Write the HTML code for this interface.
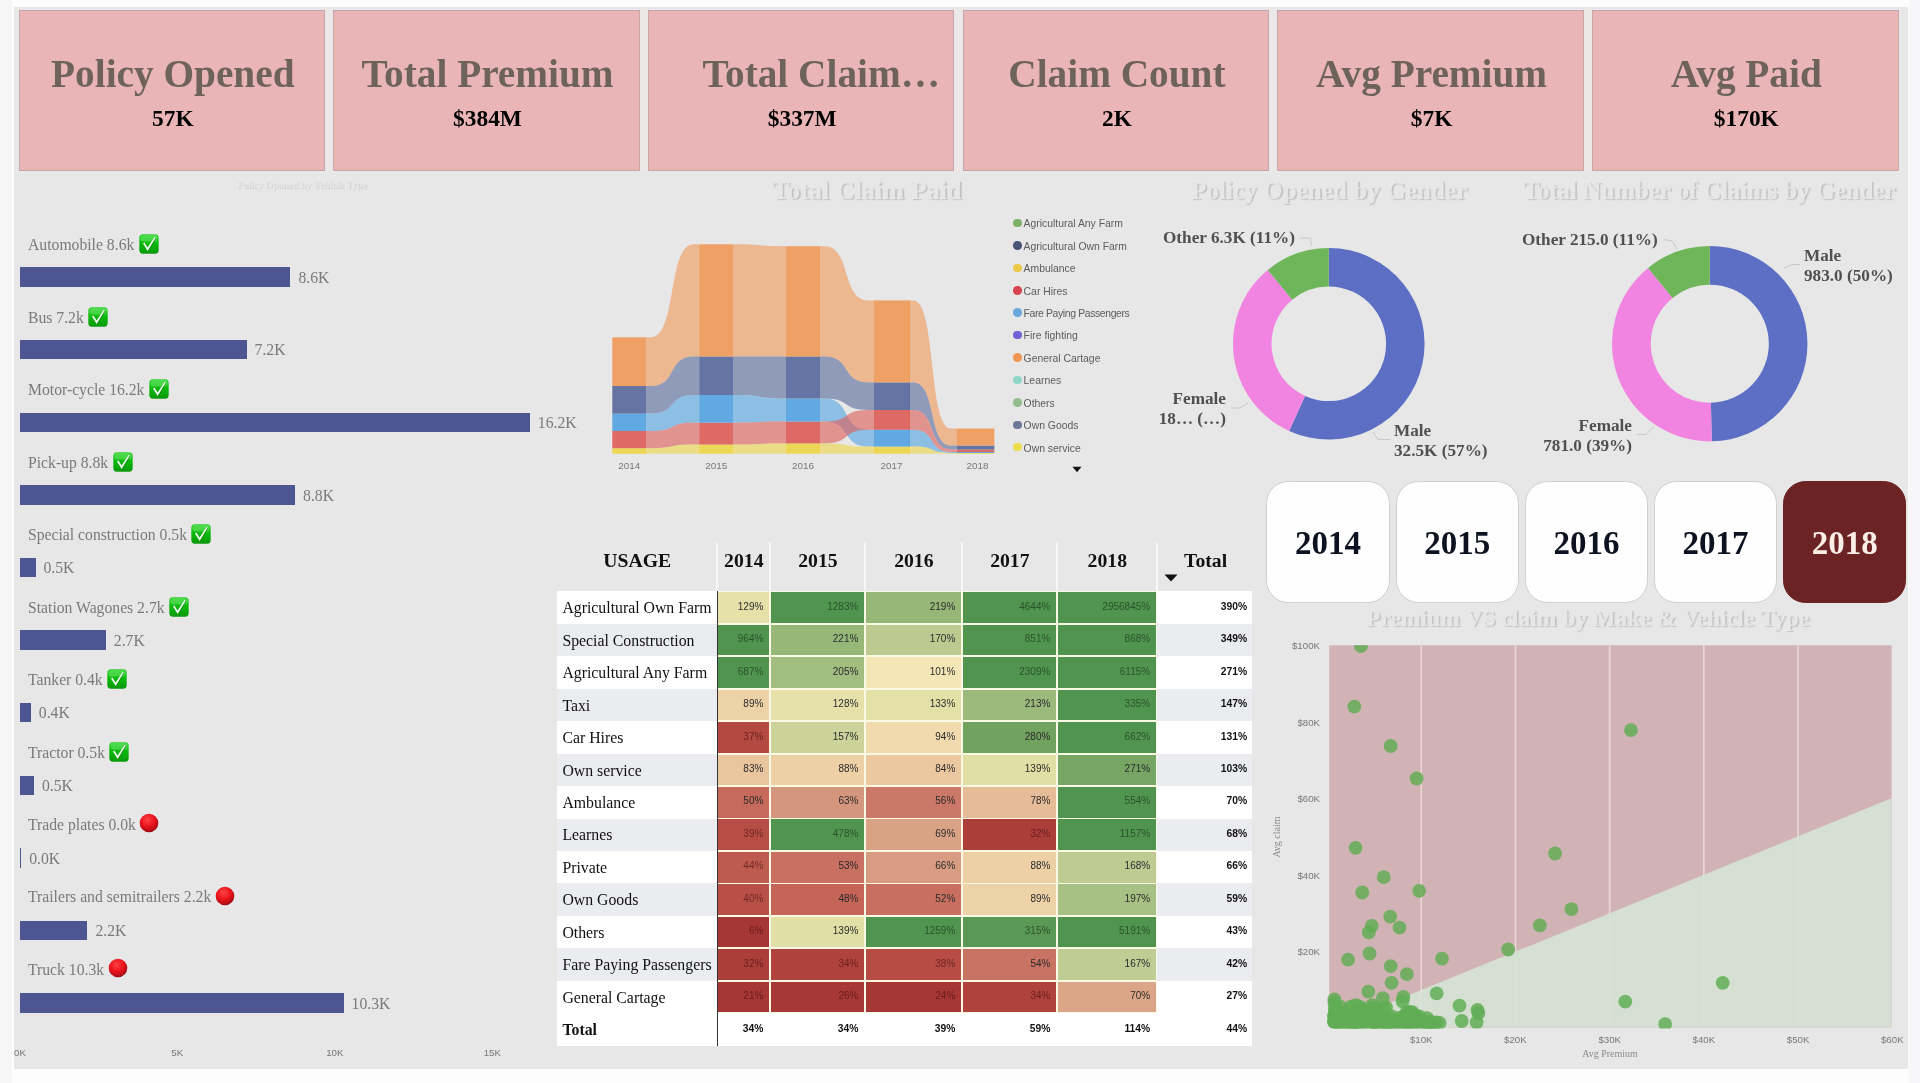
<!DOCTYPE html>
<html lang="en"><head><meta charset="utf-8"><title>Insurance Dashboard</title>
<style>

html,body{margin:0;padding:0;}
body{width:1920px;height:1083px;overflow:hidden;background:#fdfdfd;position:relative;font-family:"Liberation Serif", "DejaVu Serif", serif;}
.abs{position:absolute;}
#wrap{position:absolute;left:0;top:0;width:1920px;height:1083px;will-change:transform;}
#leftstrip{left:0;top:0;width:12px;height:1083px;background:#f6f6f6;}
#rightstrip{left:1909px;top:0;width:11px;height:1083px;background:#f7f7f9;}
#canvas{left:14px;top:7px;width:1893.5px;height:1061.6px;background:#e7e7e8;}
.kpi{top:10px;width:304.6px;height:158.6px;background:#eab5b7;border:1px solid #c3a7a8;box-sizing:content-box;}
.kpi .t{position:absolute;left:2px;right:0;top:41px;text-align:center;font:bold 39.3px/44px "Liberation Serif", "DejaVu Serif", serif;color:#6e635b;white-space:nowrap;}
.kpi .v{position:absolute;left:2px;right:0;top:92.6px;text-align:center;font:bold 23.4px/28px "Liberation Serif", "DejaVu Serif", serif;color:#000;white-space:nowrap;}
.ttl{font:bold 25.4px/30px "Liberation Serif", "DejaVu Serif", serif;color:#e7e7e8;text-shadow:1.6px 1.4px 1.2px rgba(0,0,0,.17);white-space:nowrap;}
.blab{font:15.7px/20px "Liberation Serif", "DejaVu Serif", serif;color:#7a7a7a;white-space:nowrap;}
.bar{background:#4d5690;height:19.5px;left:19.8px;}
.ax{font:9.7px/12px "Liberation Sans", "DejaVu Sans", sans-serif;color:#777;white-space:nowrap;}
.axt{font:10px/12px "Liberation Serif", "DejaVu Serif", serif;color:#8a8a8a;white-space:nowrap;text-align:center;}
.leg{font:10.4px/12px "Liberation Sans", "DejaVu Sans", sans-serif;color:#5c5c5c;white-space:nowrap;}
.dl{font:bold 17.2px/19.5px "Liberation Serif", "DejaVu Serif", serif;color:#505050;white-space:nowrap;}
.yr{top:481.4px;width:123.4px;height:121.3px;border-radius:22.5px;background:#fefefe;border:1px solid #d0d0d0;box-sizing:border-box;text-align:center;font:bold 33px/122px "Liberation Serif", "DejaVu Serif", serif;color:#0c1220;}
.yr.sel{background:#6c2323;border-color:#6c2323;color:#fbeee6;}
.th{font:bold 19.7px/24px "Liberation Serif", "DejaVu Serif", serif;color:#111;white-space:nowrap;text-align:center;}
.rl{font:15.8px/20px "Liberation Serif", "DejaVu Serif", serif;color:#111;white-space:nowrap;}
.cv{font:10px/12px "Liberation Sans", "DejaVu Sans", sans-serif;white-space:nowrap;text-align:right;}
.tv{font:bold 10.3px/12px "Liberation Sans", "DejaVu Sans", sans-serif;color:#111;white-space:nowrap;text-align:right;}

</style></head><body>
<div id="wrap">
<div id="leftstrip" class="abs"></div><div id="rightstrip" class="abs"></div>
<div id="canvas" class="abs"></div>
<div class="abs" style="left:17px;top:8.5px;width:1884px;height:163.5px;background:#ece8e7"></div>
<svg width="0" height="0" style="position:absolute"><defs><linearGradient id="gk" x1="0" y1="0" x2="0" y2="1"><stop offset="0" stop-color="#2fcf2f"/><stop offset=".5" stop-color="#0cb80c"/><stop offset="1" stop-color="#0a980a"/></linearGradient><radialGradient id="rg" cx=".42" cy=".32" r=".7"><stop offset="0" stop-color="#ff4242"/><stop offset=".55" stop-color="#e8131c"/><stop offset=".86" stop-color="#b90d14"/><stop offset="1" stop-color="#8a0a10"/></radialGradient></defs></svg>
<div class="abs kpi" style="left:18.5px"><div class="t">Policy Opened</div><div class="v">57K</div></div>
<div class="abs kpi" style="left:333.2px"><div class="t">Total Premium</div><div class="v">$384M</div></div>
<div class="abs kpi" style="left:647.9px"><div class="t" style="left:40px">Total Claim…</div><div class="v">$337M</div></div>
<div class="abs kpi" style="left:962.6px"><div class="t">Claim Count</div><div class="v">2K</div></div>
<div class="abs kpi" style="left:1277.3px"><div class="t">Avg Premium</div><div class="v">$7K</div></div>
<div class="abs kpi" style="left:1592.0px"><div class="t">Avg Paid</div><div class="v">$170K</div></div>
<div class="abs ttl" style="left:237px;top:170.3px;font-size:9.9px;text-shadow:.9px .7px .8px rgba(0,0,0,.11);">Policy Opened by Vehicle Type</div>
<div class="abs ttl" style="left:772px;top:176px;font-size:26.2px;">Total Claim Paid</div>
<div class="abs ttl" style="left:1191px;top:176px;font-size:25.2px;">Policy Opened by Gender</div>
<div class="abs ttl" style="left:1523px;top:176px;font-size:24.7px;">Total Number of Claims by Gender</div>
<div class="abs ttl" style="left:1366px;top:603px;font-size:23.6px;">Premium VS claim by Make &amp; Vehicle Type</div>
<div class="abs blab" style="left:28px;top:235.3px">Automobile 8.6k<span style="display:inline-block;width:5px"></span><span style="display:inline-block;position:relative;width:20px;height:14px;vertical-align:baseline"><svg class="abs" style="left:-0.7px;top:-2.0px" width="20" height="20" viewBox="0 0 20 20"><rect x="0.3" y="0.3" width="19.4" height="19.4" rx="3.6" fill="url(#gk)"/><rect x="1.4" y="1.0" width="17.2" height="6.6" rx="3" fill="#8af58a" opacity=".38"/><path d="M4.9 9.9 L9.5 17.2 L17.4 4.2 L16.3 3.5 L9.3 13.9 L6.3 9.2 Z" fill="#045c04" opacity=".5"/><path d="M4.0 9.4 L8.7 16.9 L16.8 3.5 L15.6 2.9 L8.6 13.4 L5.5 8.5 Z" fill="#f0fff0"/></svg></span></div>
<div class="abs bar" style="top:267.3px;width:270.6px"></div>
<div class="abs blab" style="left:298.4px;top:267.8px">8.6K</div>
<div class="abs blab" style="left:28px;top:307.8px">Bus 7.2k<span style="display:inline-block;width:5px"></span><span style="display:inline-block;position:relative;width:20px;height:14px;vertical-align:baseline"><svg class="abs" style="left:-0.7px;top:-2.0px" width="20" height="20" viewBox="0 0 20 20"><rect x="0.3" y="0.3" width="19.4" height="19.4" rx="3.6" fill="url(#gk)"/><rect x="1.4" y="1.0" width="17.2" height="6.6" rx="3" fill="#8af58a" opacity=".38"/><path d="M4.9 9.9 L9.5 17.2 L17.4 4.2 L16.3 3.5 L9.3 13.9 L6.3 9.2 Z" fill="#045c04" opacity=".5"/><path d="M4.0 9.4 L8.7 16.9 L16.8 3.5 L15.6 2.9 L8.6 13.4 L5.5 8.5 Z" fill="#f0fff0"/></svg></span></div>
<div class="abs bar" style="top:339.9px;width:226.8px"></div>
<div class="abs blab" style="left:254.6px;top:340.4px">7.2K</div>
<div class="abs blab" style="left:28px;top:380.2px">Motor-cycle 16.2k<span style="display:inline-block;width:5px"></span><span style="display:inline-block;position:relative;width:20px;height:14px;vertical-align:baseline"><svg class="abs" style="left:-0.7px;top:-2.0px" width="20" height="20" viewBox="0 0 20 20"><rect x="0.3" y="0.3" width="19.4" height="19.4" rx="3.6" fill="url(#gk)"/><rect x="1.4" y="1.0" width="17.2" height="6.6" rx="3" fill="#8af58a" opacity=".38"/><path d="M4.9 9.9 L9.5 17.2 L17.4 4.2 L16.3 3.5 L9.3 13.9 L6.3 9.2 Z" fill="#045c04" opacity=".5"/><path d="M4.0 9.4 L8.7 16.9 L16.8 3.5 L15.6 2.9 L8.6 13.4 L5.5 8.5 Z" fill="#f0fff0"/></svg></span></div>
<div class="abs bar" style="top:412.5px;width:510.0px"></div>
<div class="abs blab" style="left:537.8px;top:413.0px">16.2K</div>
<div class="abs blab" style="left:28px;top:452.7px">Pick-up 8.8k<span style="display:inline-block;width:5px"></span><span style="display:inline-block;position:relative;width:20px;height:14px;vertical-align:baseline"><svg class="abs" style="left:-0.7px;top:-2.0px" width="20" height="20" viewBox="0 0 20 20"><rect x="0.3" y="0.3" width="19.4" height="19.4" rx="3.6" fill="url(#gk)"/><rect x="1.4" y="1.0" width="17.2" height="6.6" rx="3" fill="#8af58a" opacity=".38"/><path d="M4.9 9.9 L9.5 17.2 L17.4 4.2 L16.3 3.5 L9.3 13.9 L6.3 9.2 Z" fill="#045c04" opacity=".5"/><path d="M4.0 9.4 L8.7 16.9 L16.8 3.5 L15.6 2.9 L8.6 13.4 L5.5 8.5 Z" fill="#f0fff0"/></svg></span></div>
<div class="abs bar" style="top:485.1px;width:275.3px"></div>
<div class="abs blab" style="left:303.1px;top:485.6px">8.8K</div>
<div class="abs blab" style="left:28px;top:525.1px">Special construction 0.5k<span style="display:inline-block;width:5px"></span><span style="display:inline-block;position:relative;width:20px;height:14px;vertical-align:baseline"><svg class="abs" style="left:-0.7px;top:-2.0px" width="20" height="20" viewBox="0 0 20 20"><rect x="0.3" y="0.3" width="19.4" height="19.4" rx="3.6" fill="url(#gk)"/><rect x="1.4" y="1.0" width="17.2" height="6.6" rx="3" fill="#8af58a" opacity=".38"/><path d="M4.9 9.9 L9.5 17.2 L17.4 4.2 L16.3 3.5 L9.3 13.9 L6.3 9.2 Z" fill="#045c04" opacity=".5"/><path d="M4.0 9.4 L8.7 16.9 L16.8 3.5 L15.6 2.9 L8.6 13.4 L5.5 8.5 Z" fill="#f0fff0"/></svg></span></div>
<div class="abs bar" style="top:557.7px;width:15.8px"></div>
<div class="abs blab" style="left:43.5px;top:558.2px">0.5K</div>
<div class="abs blab" style="left:28px;top:597.5px">Station Wagones 2.7k<span style="display:inline-block;width:5px"></span><span style="display:inline-block;position:relative;width:20px;height:14px;vertical-align:baseline"><svg class="abs" style="left:-0.7px;top:-2.0px" width="20" height="20" viewBox="0 0 20 20"><rect x="0.3" y="0.3" width="19.4" height="19.4" rx="3.6" fill="url(#gk)"/><rect x="1.4" y="1.0" width="17.2" height="6.6" rx="3" fill="#8af58a" opacity=".38"/><path d="M4.9 9.9 L9.5 17.2 L17.4 4.2 L16.3 3.5 L9.3 13.9 L6.3 9.2 Z" fill="#045c04" opacity=".5"/><path d="M4.0 9.4 L8.7 16.9 L16.8 3.5 L15.6 2.9 L8.6 13.4 L5.5 8.5 Z" fill="#f0fff0"/></svg></span></div>
<div class="abs bar" style="top:630.3px;width:86.0px"></div>
<div class="abs blab" style="left:113.8px;top:630.8px">2.7K</div>
<div class="abs blab" style="left:28px;top:670.0px">Tanker 0.4k<span style="display:inline-block;width:5px"></span><span style="display:inline-block;position:relative;width:20px;height:14px;vertical-align:baseline"><svg class="abs" style="left:-0.7px;top:-2.0px" width="20" height="20" viewBox="0 0 20 20"><rect x="0.3" y="0.3" width="19.4" height="19.4" rx="3.6" fill="url(#gk)"/><rect x="1.4" y="1.0" width="17.2" height="6.6" rx="3" fill="#8af58a" opacity=".38"/><path d="M4.9 9.9 L9.5 17.2 L17.4 4.2 L16.3 3.5 L9.3 13.9 L6.3 9.2 Z" fill="#045c04" opacity=".5"/><path d="M4.0 9.4 L8.7 16.9 L16.8 3.5 L15.6 2.9 L8.6 13.4 L5.5 8.5 Z" fill="#f0fff0"/></svg></span></div>
<div class="abs bar" style="top:702.9px;width:11.0px"></div>
<div class="abs blab" style="left:38.8px;top:703.4px">0.4K</div>
<div class="abs blab" style="left:28px;top:742.5px">Tractor 0.5k<span style="display:inline-block;width:5px"></span><span style="display:inline-block;position:relative;width:20px;height:14px;vertical-align:baseline"><svg class="abs" style="left:-0.7px;top:-2.0px" width="20" height="20" viewBox="0 0 20 20"><rect x="0.3" y="0.3" width="19.4" height="19.4" rx="3.6" fill="url(#gk)"/><rect x="1.4" y="1.0" width="17.2" height="6.6" rx="3" fill="#8af58a" opacity=".38"/><path d="M4.9 9.9 L9.5 17.2 L17.4 4.2 L16.3 3.5 L9.3 13.9 L6.3 9.2 Z" fill="#045c04" opacity=".5"/><path d="M4.0 9.4 L8.7 16.9 L16.8 3.5 L15.6 2.9 L8.6 13.4 L5.5 8.5 Z" fill="#f0fff0"/></svg></span></div>
<div class="abs bar" style="top:775.5px;width:14.2px"></div>
<div class="abs blab" style="left:42.0px;top:776.0px">0.5K</div>
<div class="abs blab" style="left:28px;top:814.9px">Trade plates 0.0k<span style="display:inline-block;width:5px"></span><span style="display:inline-block;position:relative;width:20px;height:14px;vertical-align:baseline"><svg class="abs" style="left:-1.5px;top:-2.6px" width="20" height="20" viewBox="0 0 20 20"><circle cx="10" cy="10" r="9.3" fill="url(#rg)"/></svg></span></div>
<div class="abs bar" style="top:848.1px;width:1.4px"></div>
<div class="abs blab" style="left:29.2px;top:848.6px">0.0K</div>
<div class="abs blab" style="left:28px;top:887.4px">Trailers and semitrailers 2.2k<span style="display:inline-block;width:5px"></span><span style="display:inline-block;position:relative;width:20px;height:14px;vertical-align:baseline"><svg class="abs" style="left:-1.5px;top:-2.6px" width="20" height="20" viewBox="0 0 20 20"><circle cx="10" cy="10" r="9.3" fill="url(#rg)"/></svg></span></div>
<div class="abs bar" style="top:920.7px;width:67.7px"></div>
<div class="abs blab" style="left:95.5px;top:921.2px">2.2K</div>
<div class="abs blab" style="left:28px;top:959.8px">Truck 10.3k<span style="display:inline-block;width:5px"></span><span style="display:inline-block;position:relative;width:20px;height:14px;vertical-align:baseline"><svg class="abs" style="left:-1.5px;top:-2.6px" width="20" height="20" viewBox="0 0 20 20"><circle cx="10" cy="10" r="9.3" fill="url(#rg)"/></svg></span></div>
<div class="abs bar" style="top:993.3px;width:323.8px"></div>
<div class="abs blab" style="left:351.6px;top:993.8px">10.3K</div>
<div class="abs ax" style="left:0px;width:40px;text-align:center;top:1047.2px">0K</div>
<div class="abs ax" style="left:157.3px;width:40px;text-align:center;top:1047.2px">5K</div>
<div class="abs ax" style="left:314.8px;width:40px;text-align:center;top:1047.2px">10K</div>
<div class="abs ax" style="left:472.3px;width:40px;text-align:center;top:1047.2px">15K</div>
<svg class="abs" style="left:600px;top:225px" width="410" height="240" viewBox="600 225 410 240"><path d="M646.3 337.3 L650.8 337.3 C677.4 337.3 667.1 244.3 693.7 244.3 L699.2 244.3 L699.2 356.5 L693.7 356.5 C667.1 356.5 677.4 386.0 650.8 386.0 L646.3 386.0 Z" fill="#f09a58" fill-opacity=".62"/><path d="M646.3 386.0 L650.8 386.0 C677.4 386.0 667.1 356.5 693.7 356.5 L699.2 356.5 L699.2 395.0 L693.7 395.0 C667.1 395.0 677.4 413.6 650.8 413.6 L646.3 413.6 Z" fill="#5a6a9c" fill-opacity=".62"/><path d="M646.3 413.6 L650.8 413.6 C677.4 413.6 667.1 395.0 693.7 395.0 L699.2 395.0 L699.2 422.7 L693.7 422.7 C667.1 422.7 677.4 431.0 650.8 431.0 L646.3 431.0 Z" fill="#56a4e2" fill-opacity=".62"/><path d="M646.3 431.0 L650.8 431.0 C677.4 431.0 667.1 422.7 693.7 422.7 L699.2 422.7 L699.2 444.5 L693.7 444.5 C667.1 444.5 677.4 448.2 650.8 448.2 L646.3 448.2 Z" fill="#dd5f5a" fill-opacity=".62"/><path d="M646.3 448.2 L650.8 448.2 C677.4 448.2 667.1 444.5 693.7 444.5 L699.2 444.5 L699.2 453.8 L693.7 453.8 C667.1 453.8 677.4 453.8 650.8 453.8 L646.3 453.8 Z" fill="#eed64a" fill-opacity=".62"/><path d="M733.2 244.3 L737.7 244.3 C764.2 244.3 754.0 246.2 780.5 246.2 L786.0 246.2 L786.0 356.5 L780.5 356.5 C754.0 356.5 764.2 356.5 737.7 356.5 L733.2 356.5 Z" fill="#f09a58" fill-opacity=".62"/><path d="M733.2 356.5 L737.7 356.5 C764.2 356.5 754.0 356.5 780.5 356.5 L786.0 356.5 L786.0 398.5 L780.5 398.5 C754.0 398.5 764.2 395.0 737.7 395.0 L733.2 395.0 Z" fill="#5a6a9c" fill-opacity=".62"/><path d="M733.2 395.0 L737.7 395.0 C764.2 395.0 754.0 398.5 780.5 398.5 L786.0 398.5 L786.0 421.6 L780.5 421.6 C754.0 421.6 764.2 422.7 737.7 422.7 L733.2 422.7 Z" fill="#56a4e2" fill-opacity=".62"/><path d="M733.2 422.7 L737.7 422.7 C764.2 422.7 754.0 421.6 780.5 421.6 L786.0 421.6 L786.0 443.4 L780.5 443.4 C754.0 443.4 764.2 444.5 737.7 444.5 L733.2 444.5 Z" fill="#dd5f5a" fill-opacity=".62"/><path d="M733.2 444.5 L737.7 444.5 C764.2 444.5 754.0 443.4 780.5 443.4 L786.0 443.4 L786.0 453.8 L780.5 453.8 C754.0 453.8 764.2 453.8 737.7 453.8 L733.2 453.8 Z" fill="#eed64a" fill-opacity=".62"/><path d="M820.0 246.2 L824.5 246.2 C851.5 246.2 841.1 300.4 868.1 300.4 L873.6 300.4 L873.6 382.4 L868.1 382.4 C841.1 382.4 851.5 356.5 824.5 356.5 L820.0 356.5 Z" fill="#f09a58" fill-opacity=".62"/><path d="M820.0 356.5 L824.5 356.5 C851.5 356.5 841.1 382.4 868.1 382.4 L873.6 382.4 L873.6 410.0 L868.1 410.0 C841.1 410.0 851.5 398.5 824.5 398.5 L820.0 398.5 Z" fill="#5a6a9c" fill-opacity=".62"/><path d="M820.0 398.5 L824.5 398.5 C851.5 398.5 841.1 429.7 868.1 429.7 L873.6 429.7 L873.6 446.6 L868.1 446.6 C841.1 446.6 851.5 421.6 824.5 421.6 L820.0 421.6 Z" fill="#56a4e2" fill-opacity=".62"/><path d="M820.0 421.6 L824.5 421.6 C851.5 421.6 841.1 410.0 868.1 410.0 L873.6 410.0 L873.6 429.7 L868.1 429.7 C841.1 429.7 851.5 443.4 824.5 443.4 L820.0 443.4 Z" fill="#dd5f5a" fill-opacity=".62"/><path d="M820.0 443.4 L824.5 443.4 C851.5 443.4 841.1 446.6 868.1 446.6 L873.6 446.6 L873.6 453.8 L868.1 453.8 C841.1 453.8 851.5 453.8 824.5 453.8 L820.0 453.8 Z" fill="#eed64a" fill-opacity=".62"/><path d="M908.8 300.4 L913.3 300.4 C936.7 300.4 927.7 428.5 951.1 428.5 L956.6 428.5 L956.6 445.6 L951.1 445.6 C927.7 445.6 936.7 382.4 913.3 382.4 L908.8 382.4 Z" fill="#f09a58" fill-opacity=".62"/><path d="M908.8 382.4 L913.3 382.4 C936.7 382.4 927.7 445.6 951.1 445.6 L956.6 445.6 L956.6 449.5 L951.1 449.5 C927.7 449.5 936.7 410.0 913.3 410.0 L908.8 410.0 Z" fill="#5a6a9c" fill-opacity=".62"/><path d="M908.8 429.7 L913.3 429.7 C936.7 429.7 927.7 452.0 951.1 452.0 L956.6 452.0 L956.6 453.0 L951.1 453.0 C927.7 453.0 936.7 446.6 913.3 446.6 L908.8 446.6 Z" fill="#56a4e2" fill-opacity=".62"/><path d="M908.8 410.0 L913.3 410.0 C936.7 410.0 927.7 449.5 951.1 449.5 L956.6 449.5 L956.6 452.0 L951.1 452.0 C927.7 452.0 936.7 429.7 913.3 429.7 L908.8 429.7 Z" fill="#dd5f5a" fill-opacity=".62"/><path d="M908.8 446.6 L913.3 446.6 C936.7 446.6 927.7 453.0 951.1 453.0 L956.6 453.0 L956.6 453.8 L951.1 453.8 C927.7 453.8 936.7 453.8 913.3 453.8 L908.8 453.8 Z" fill="#eed64a" fill-opacity=".62"/><rect x="612.3" y="448.2" width="34.0" height="5.6" fill="#eed64a" fill-opacity=".92"/><rect x="612.3" y="431.0" width="34.0" height="17.2" fill="#dd5f5a" fill-opacity=".92"/><rect x="612.3" y="413.6" width="34.0" height="17.4" fill="#56a4e2" fill-opacity=".92"/><rect x="612.3" y="386.0" width="34.0" height="27.6" fill="#5a6a9c" fill-opacity=".92"/><rect x="612.3" y="337.3" width="34.0" height="48.7" fill="#f09a58" fill-opacity=".92"/><rect x="699.2" y="444.5" width="34.0" height="9.3" fill="#eed64a" fill-opacity=".92"/><rect x="699.2" y="422.7" width="34.0" height="21.8" fill="#dd5f5a" fill-opacity=".92"/><rect x="699.2" y="395.0" width="34.0" height="27.7" fill="#56a4e2" fill-opacity=".92"/><rect x="699.2" y="356.5" width="34.0" height="38.5" fill="#5a6a9c" fill-opacity=".92"/><rect x="699.2" y="244.3" width="34.0" height="112.2" fill="#f09a58" fill-opacity=".92"/><rect x="786.0" y="443.4" width="34.0" height="10.4" fill="#eed64a" fill-opacity=".92"/><rect x="786.0" y="421.6" width="34.0" height="21.8" fill="#dd5f5a" fill-opacity=".92"/><rect x="786.0" y="398.5" width="34.0" height="23.1" fill="#56a4e2" fill-opacity=".92"/><rect x="786.0" y="356.5" width="34.0" height="42.0" fill="#5a6a9c" fill-opacity=".92"/><rect x="786.0" y="246.2" width="34.0" height="110.3" fill="#f09a58" fill-opacity=".92"/><rect x="873.6" y="446.6" width="36.4" height="7.2" fill="#eed64a" fill-opacity=".92"/><rect x="873.6" y="429.7" width="36.4" height="16.9" fill="#56a4e2" fill-opacity=".92"/><rect x="873.6" y="410.0" width="36.4" height="19.7" fill="#dd5f5a" fill-opacity=".92"/><rect x="873.6" y="382.4" width="36.4" height="27.6" fill="#5a6a9c" fill-opacity=".92"/><rect x="873.6" y="300.4" width="36.4" height="82.0" fill="#f09a58" fill-opacity=".92"/><rect x="956.6" y="453.0" width="37.8" height="0.8" fill="#eed64a" fill-opacity=".92"/><rect x="956.6" y="452.0" width="37.8" height="1.0" fill="#56a4e2" fill-opacity=".92"/><rect x="956.6" y="449.5" width="37.8" height="2.5" fill="#dd5f5a" fill-opacity=".92"/><rect x="956.6" y="445.6" width="37.8" height="3.9" fill="#5a6a9c" fill-opacity=".92"/><rect x="956.6" y="428.5" width="37.8" height="17.1" fill="#f09a58" fill-opacity=".92"/></svg>
<div class="abs ax" style="left:609.3px;width:40px;text-align:center;top:459.8px;color:#777;font-size:9.9px">2014</div>
<div class="abs ax" style="left:696.2px;width:40px;text-align:center;top:459.8px;color:#777;font-size:9.9px">2015</div>
<div class="abs ax" style="left:783.0px;width:40px;text-align:center;top:459.8px;color:#777;font-size:9.9px">2016</div>
<div class="abs ax" style="left:871.4px;width:40px;text-align:center;top:459.8px;color:#777;font-size:9.9px">2017</div>
<div class="abs ax" style="left:957.5px;width:40px;text-align:center;top:459.8px;color:#777;font-size:9.9px">2018</div>
<div class="abs" style="left:1013px;top:218.7px;width:8.6px;height:8.6px;border-radius:50%;background:#7fb06a"></div>
<div class="abs leg" style="left:1023.6px;top:218.3px">Agricultural Any Farm</div>
<div class="abs" style="left:1013px;top:241.1px;width:8.6px;height:8.6px;border-radius:50%;background:#4a5478"></div>
<div class="abs leg" style="left:1023.6px;top:240.7px">Agricultural Own Farm</div>
<div class="abs" style="left:1013px;top:263.5px;width:8.6px;height:8.6px;border-radius:50%;background:#ecc94a"></div>
<div class="abs leg" style="left:1023.6px;top:263.1px">Ambulance</div>
<div class="abs" style="left:1013px;top:286.0px;width:8.6px;height:8.6px;border-radius:50%;background:#d9434e"></div>
<div class="abs leg" style="left:1023.6px;top:285.6px">Car Hires</div>
<div class="abs" style="left:1013px;top:308.4px;width:8.6px;height:8.6px;border-radius:50%;background:#6aa7de"></div>
<div class="abs leg" style="left:1023.6px;top:308.0px;letter-spacing:-0.36px">Fare Paying Passengers</div>
<div class="abs" style="left:1013px;top:330.8px;width:8.6px;height:8.6px;border-radius:50%;background:#6f62d6"></div>
<div class="abs leg" style="left:1023.6px;top:330.4px">Fire fighting</div>
<div class="abs" style="left:1013px;top:353.2px;width:8.6px;height:8.6px;border-radius:50%;background:#ef9555"></div>
<div class="abs leg" style="left:1023.6px;top:352.8px">General Cartage</div>
<div class="abs" style="left:1013px;top:375.6px;width:8.6px;height:8.6px;border-radius:50%;background:#8fd9c8"></div>
<div class="abs leg" style="left:1023.6px;top:375.2px">Learnes</div>
<div class="abs" style="left:1013px;top:398.1px;width:8.6px;height:8.6px;border-radius:50%;background:#93bd8e"></div>
<div class="abs leg" style="left:1023.6px;top:397.7px">Others</div>
<div class="abs" style="left:1013px;top:420.5px;width:8.6px;height:8.6px;border-radius:50%;background:#6d7898"></div>
<div class="abs leg" style="left:1023.6px;top:420.1px">Own Goods</div>
<div class="abs" style="left:1013px;top:442.9px;width:8.6px;height:8.6px;border-radius:50%;background:#ebdd4d"></div>
<div class="abs leg" style="left:1023.6px;top:442.5px">Own service</div>
<svg class="abs" style="left:1072px;top:466px" width="10" height="7" viewBox="0 0 10 7"><path d="M0.5 0.8 L9.5 0.8 L5 6.2 Z" fill="#111"/></svg>
<svg class="abs" style="left:1231.2px;top:245.5px" width="195.6" height="195.6" viewBox="-97.8 -97.8 195.6 195.6"><path d="M0.00 -95.80 A95.8 95.8 0 1 1 -39.70 87.19 L-23.74 52.15 A57.3 57.3 0 1 0 0.00 -57.30 Z" fill="#5c6fc4"/><path d="M-39.70 87.19 A95.8 95.8 0 0 1 -61.07 -73.82 L-36.52 -44.15 A57.3 57.3 0 0 0 -23.74 52.15 Z" fill="#f084e0"/><path d="M-61.07 -73.82 A95.8 95.8 0 0 1 -0.00 -95.80 L-0.00 -57.30 A57.3 57.3 0 0 0 -36.52 -44.15 Z" fill="#6fb65a"/></svg>
<svg class="abs" style="left:1610.1px;top:243.6px" width="199.4" height="199.4" viewBox="-99.7 -99.7 199.4 199.4"><path d="M0.00 -97.70 A97.7 97.7 0 0 1 2.03 97.68 L1.22 58.99 A59.0 59.0 0 0 0 0.00 -59.00 Z" fill="#5c6fc4"/><path d="M2.03 97.68 A97.7 97.7 0 0 1 -61.61 -75.82 L-37.21 -45.79 A59.0 59.0 0 0 0 1.22 58.99 Z" fill="#f084e0"/><path d="M-61.61 -75.82 A97.7 97.7 0 0 1 -0.00 -97.70 L-0.00 -59.00 A59.0 59.0 0 0 0 -37.21 -45.79 Z" fill="#6fb65a"/></svg>
<div class="abs dl" style="left:1163px;top:228.3px">Other 6.3K (11%)</div>
<div class="abs dl" style="left:1026px;width:200px;text-align:right;top:389px">Female<br>18… (…)</div>
<div class="abs dl" style="left:1394px;top:421px">Male<br>32.5K (57%)</div>
<div class="abs dl" style="left:1522px;top:230px">Other 215.0 (11%)</div>
<div class="abs dl" style="left:1804px;top:246.2px">Male<br>983.0 (50%)</div>
<div class="abs dl" style="left:1432px;width:200px;text-align:right;top:416px">Female<br>781.0 (39%)</div>
<svg class="abs" style="left:1140px;top:220px" width="780" height="250" viewBox="1140 220 780 250" fill="none" stroke="#c9c9c9" stroke-width="1"><path d="M1299.5 238 L1310.5 238 L1311.5 246"/><path d="M1231 408 L1240 408 L1248 403"/><path d="M1373 432 L1378 439.5 L1390 439.5"/><path d="M1664 239.5 L1672 241 L1677 249"/><path d="M1784 268 L1792 264.5 L1800 264.5"/><path d="M1637 434.5 L1646 434.5 L1654 427"/></svg>
<div class="abs yr" style="left:1266.3px">2014</div>
<div class="abs yr" style="left:1395.5px">2015</div>
<div class="abs yr" style="left:1524.7px">2016</div>
<div class="abs yr" style="left:1653.9px">2017</div>
<div class="abs yr sel" style="left:1783.1px">2018</div>
<div class="abs th" style="left:557.4px;width:159.8px;top:548.3px">USAGE</div>
<div class="abs th" style="left:717.2px;width:53.2px;top:548.3px">2014</div>
<div class="abs th" style="left:770.4px;width:95.0px;top:548.3px">2015</div>
<div class="abs th" style="left:865.4px;width:96.9px;top:548.3px">2016</div>
<div class="abs th" style="left:962.3px;width:95.1px;top:548.3px">2017</div>
<div class="abs th" style="left:1057.4px;width:99.8px;top:548.3px">2018</div>
<div class="abs th" style="left:1158.2px;width:94.8px;top:548.3px">Total</div>
<div class="abs" style="left:716.2px;top:543px;width:2px;height:48px;background:#f7f7f7"></div>
<div class="abs" style="left:769.4px;top:543px;width:2px;height:48px;background:#f7f7f7"></div>
<div class="abs" style="left:864.4px;top:543px;width:2px;height:48px;background:#f7f7f7"></div>
<div class="abs" style="left:961.3px;top:543px;width:2px;height:48px;background:#f7f7f7"></div>
<div class="abs" style="left:1056.4px;top:543px;width:2px;height:48px;background:#f7f7f7"></div>
<div class="abs" style="left:1156.2px;top:543px;width:2px;height:48px;background:#f7f7f7"></div>
<div class="abs" style="left:557.4px;top:590.5px;width:694.6px;height:1.2px;background:#2a2a2a"></div>
<svg class="abs" style="left:1163.5px;top:573.5px" width="14" height="8" viewBox="0 0 14 8"><path d="M0.5 0.5 L13.5 0.5 L7 7.5 Z" fill="#111"/></svg>
<div class="abs" style="left:717.2px;top:591.2px;width:440.0px;height:422.1px;background:#faf9e4"></div>
<div class="abs" style="left:557.4px;top:591.2px;width:159.8px;height:32.5px;background:#ffffff"></div>
<div class="abs" style="left:1157.2px;top:591.2px;width:94.8px;height:32.5px;background:#ffffff"></div>
<div class="abs rl" style="left:562.4px;top:598.1px">Agricultural Own Farm</div>
<div class="abs" style="left:718.1px;top:592.1px;width:51.4px;height:30.7px;background:#e5e1a9"></div>
<div class="abs cv" style="left:717.2px;width:46.2px;top:600.6px;color:#2b2b2b">129%</div>
<div class="abs" style="left:771.3px;top:592.1px;width:93.2px;height:30.7px;background:#509450"></div>
<div class="abs cv" style="left:770.4px;width:88.0px;top:600.6px;color:rgba(20,40,20,.62)">1283%</div>
<div class="abs" style="left:866.3px;top:592.1px;width:95.1px;height:30.7px;background:#97b779"></div>
<div class="abs cv" style="left:865.4px;width:89.9px;top:600.6px;color:#2b2b2b">219%</div>
<div class="abs" style="left:963.2px;top:592.1px;width:93.3px;height:30.7px;background:#509450"></div>
<div class="abs cv" style="left:962.3px;width:88.1px;top:600.6px;color:rgba(20,40,20,.62)">4644%</div>
<div class="abs" style="left:1058.3px;top:592.1px;width:98.0px;height:30.7px;background:#509450"></div>
<div class="abs cv" style="left:1057.4px;width:92.8px;top:600.6px;color:rgba(20,40,20,.62)">2956845%</div>
<div class="abs tv" style="left:1157.2px;width:90.0px;top:600.6px">390%</div>
<div class="abs" style="left:557.4px;top:623.7px;width:159.8px;height:32.5px;background:#ebecef"></div>
<div class="abs" style="left:1157.2px;top:623.7px;width:94.8px;height:32.5px;background:#ebecef"></div>
<div class="abs rl" style="left:562.4px;top:630.6px">Special Construction</div>
<div class="abs" style="left:718.1px;top:624.6px;width:51.4px;height:30.7px;background:#509450"></div>
<div class="abs cv" style="left:717.2px;width:46.2px;top:633.1px;color:rgba(20,40,20,.62)">964%</div>
<div class="abs" style="left:771.3px;top:624.6px;width:93.2px;height:30.7px;background:#95b778"></div>
<div class="abs cv" style="left:770.4px;width:88.0px;top:633.1px;color:#2b2b2b">221%</div>
<div class="abs" style="left:866.3px;top:624.6px;width:95.1px;height:30.7px;background:#bcca92"></div>
<div class="abs cv" style="left:865.4px;width:89.9px;top:633.1px;color:#2b2b2b">170%</div>
<div class="abs" style="left:963.2px;top:624.6px;width:93.3px;height:30.7px;background:#509450"></div>
<div class="abs cv" style="left:962.3px;width:88.1px;top:633.1px;color:rgba(20,40,20,.62)">851%</div>
<div class="abs" style="left:1058.3px;top:624.6px;width:98.0px;height:30.7px;background:#509450"></div>
<div class="abs cv" style="left:1057.4px;width:92.8px;top:633.1px;color:rgba(20,40,20,.62)">868%</div>
<div class="abs tv" style="left:1157.2px;width:90.0px;top:633.1px">349%</div>
<div class="abs" style="left:557.4px;top:656.1px;width:159.8px;height:32.5px;background:#ffffff"></div>
<div class="abs" style="left:1157.2px;top:656.1px;width:94.8px;height:32.5px;background:#ffffff"></div>
<div class="abs rl" style="left:562.4px;top:663.0px">Agricultural Any Farm</div>
<div class="abs" style="left:718.1px;top:657.0px;width:51.4px;height:30.7px;background:#509450"></div>
<div class="abs cv" style="left:717.2px;width:46.2px;top:665.5px;color:rgba(20,40,20,.62)">687%</div>
<div class="abs" style="left:771.3px;top:657.0px;width:93.2px;height:30.7px;background:#a1bd80"></div>
<div class="abs cv" style="left:770.4px;width:88.0px;top:665.5px;color:#2b2b2b">205%</div>
<div class="abs" style="left:866.3px;top:657.0px;width:95.1px;height:30.7px;background:#f4e6b6"></div>
<div class="abs cv" style="left:865.4px;width:89.9px;top:665.5px;color:#2b2b2b">101%</div>
<div class="abs" style="left:963.2px;top:657.0px;width:93.3px;height:30.7px;background:#509450"></div>
<div class="abs cv" style="left:962.3px;width:88.1px;top:665.5px;color:rgba(20,40,20,.62)">2309%</div>
<div class="abs" style="left:1058.3px;top:657.0px;width:98.0px;height:30.7px;background:#509450"></div>
<div class="abs cv" style="left:1057.4px;width:92.8px;top:665.5px;color:rgba(20,40,20,.62)">6115%</div>
<div class="abs tv" style="left:1157.2px;width:90.0px;top:665.5px">271%</div>
<div class="abs" style="left:557.4px;top:688.6px;width:159.8px;height:32.5px;background:#ebecef"></div>
<div class="abs" style="left:1157.2px;top:688.6px;width:94.8px;height:32.5px;background:#ebecef"></div>
<div class="abs rl" style="left:562.4px;top:695.5px">Taxi</div>
<div class="abs" style="left:718.1px;top:689.5px;width:51.4px;height:30.7px;background:#eed2a7"></div>
<div class="abs cv" style="left:717.2px;width:46.2px;top:698.0px;color:#2b2b2b">89%</div>
<div class="abs" style="left:771.3px;top:689.5px;width:93.2px;height:30.7px;background:#e6e1aa"></div>
<div class="abs cv" style="left:770.4px;width:88.0px;top:698.0px;color:#2b2b2b">128%</div>
<div class="abs" style="left:866.3px;top:689.5px;width:95.1px;height:30.7px;background:#e3e0a8"></div>
<div class="abs cv" style="left:865.4px;width:89.9px;top:698.0px;color:#2b2b2b">133%</div>
<div class="abs" style="left:963.2px;top:689.5px;width:93.3px;height:30.7px;background:#9bba7c"></div>
<div class="abs cv" style="left:962.3px;width:88.1px;top:698.0px;color:#2b2b2b">213%</div>
<div class="abs" style="left:1058.3px;top:689.5px;width:98.0px;height:30.7px;background:#509450"></div>
<div class="abs cv" style="left:1057.4px;width:92.8px;top:698.0px;color:rgba(20,40,20,.62)">335%</div>
<div class="abs tv" style="left:1157.2px;width:90.0px;top:698.0px">147%</div>
<div class="abs" style="left:557.4px;top:721.1px;width:159.8px;height:32.5px;background:#ffffff"></div>
<div class="abs" style="left:1157.2px;top:721.1px;width:94.8px;height:32.5px;background:#ffffff"></div>
<div class="abs rl" style="left:562.4px;top:728.0px">Car Hires</div>
<div class="abs" style="left:718.1px;top:722.0px;width:51.4px;height:30.7px;background:#b44942"></div>
<div class="abs cv" style="left:717.2px;width:46.2px;top:730.5px;color:rgba(60,10,10,.6)">37%</div>
<div class="abs" style="left:771.3px;top:722.0px;width:93.2px;height:30.7px;background:#cbd39a"></div>
<div class="abs cv" style="left:770.4px;width:88.0px;top:730.5px;color:#2b2b2b">157%</div>
<div class="abs" style="left:866.3px;top:722.0px;width:95.1px;height:30.7px;background:#f1dbae"></div>
<div class="abs cv" style="left:865.4px;width:89.9px;top:730.5px;color:#2b2b2b">94%</div>
<div class="abs" style="left:963.2px;top:722.0px;width:93.3px;height:30.7px;background:#70a260"></div>
<div class="abs cv" style="left:962.3px;width:88.1px;top:730.5px;color:#2b2b2b">280%</div>
<div class="abs" style="left:1058.3px;top:722.0px;width:98.0px;height:30.7px;background:#509450"></div>
<div class="abs cv" style="left:1057.4px;width:92.8px;top:730.5px;color:rgba(20,40,20,.62)">662%</div>
<div class="abs tv" style="left:1157.2px;width:90.0px;top:730.5px">131%</div>
<div class="abs" style="left:557.4px;top:753.6px;width:159.8px;height:32.5px;background:#ebecef"></div>
<div class="abs" style="left:1157.2px;top:753.6px;width:94.8px;height:32.5px;background:#ebecef"></div>
<div class="abs rl" style="left:562.4px;top:760.5px">Own service</div>
<div class="abs" style="left:718.1px;top:754.5px;width:51.4px;height:30.7px;background:#eac69f"></div>
<div class="abs cv" style="left:717.2px;width:46.2px;top:763.0px;color:#2b2b2b">83%</div>
<div class="abs" style="left:771.3px;top:754.5px;width:93.2px;height:30.7px;background:#eed0a6"></div>
<div class="abs cv" style="left:770.4px;width:88.0px;top:763.0px;color:#2b2b2b">88%</div>
<div class="abs" style="left:866.3px;top:754.5px;width:95.1px;height:30.7px;background:#ebc8a0"></div>
<div class="abs cv" style="left:865.4px;width:89.9px;top:763.0px;color:#2b2b2b">84%</div>
<div class="abs" style="left:963.2px;top:754.5px;width:93.3px;height:30.7px;background:#e0dfa5"></div>
<div class="abs cv" style="left:962.3px;width:88.1px;top:763.0px;color:#2b2b2b">139%</div>
<div class="abs" style="left:1058.3px;top:754.5px;width:98.0px;height:30.7px;background:#76a564"></div>
<div class="abs cv" style="left:1057.4px;width:92.8px;top:763.0px;color:#2b2b2b">271%</div>
<div class="abs tv" style="left:1157.2px;width:90.0px;top:763.0px">103%</div>
<div class="abs" style="left:557.4px;top:786.0px;width:159.8px;height:32.5px;background:#ffffff"></div>
<div class="abs" style="left:1157.2px;top:786.0px;width:94.8px;height:32.5px;background:#ffffff"></div>
<div class="abs rl" style="left:562.4px;top:792.9px">Ambulance</div>
<div class="abs" style="left:718.1px;top:786.9px;width:51.4px;height:30.7px;background:#c66a5c"></div>
<div class="abs cv" style="left:717.2px;width:46.2px;top:795.4px;color:#2b2b2b">50%</div>
<div class="abs" style="left:771.3px;top:786.9px;width:93.2px;height:30.7px;background:#d5967e"></div>
<div class="abs cv" style="left:770.4px;width:88.0px;top:795.4px;color:#2b2b2b">63%</div>
<div class="abs" style="left:866.3px;top:786.9px;width:95.1px;height:30.7px;background:#cb7868"></div>
<div class="abs cv" style="left:865.4px;width:89.9px;top:795.4px;color:#2b2b2b">56%</div>
<div class="abs" style="left:963.2px;top:786.9px;width:93.3px;height:30.7px;background:#e6bc98"></div>
<div class="abs cv" style="left:962.3px;width:88.1px;top:795.4px;color:#2b2b2b">78%</div>
<div class="abs" style="left:1058.3px;top:786.9px;width:98.0px;height:30.7px;background:#509450"></div>
<div class="abs cv" style="left:1057.4px;width:92.8px;top:795.4px;color:rgba(20,40,20,.62)">554%</div>
<div class="abs tv" style="left:1157.2px;width:90.0px;top:795.4px">70%</div>
<div class="abs" style="left:557.4px;top:818.5px;width:159.8px;height:32.5px;background:#ebecef"></div>
<div class="abs" style="left:1157.2px;top:818.5px;width:94.8px;height:32.5px;background:#ebecef"></div>
<div class="abs rl" style="left:562.4px;top:825.4px">Learnes</div>
<div class="abs" style="left:718.1px;top:819.4px;width:51.4px;height:30.7px;background:#b74e45"></div>
<div class="abs cv" style="left:717.2px;width:46.2px;top:827.9px;color:rgba(60,10,10,.6)">39%</div>
<div class="abs" style="left:771.3px;top:819.4px;width:93.2px;height:30.7px;background:#509450"></div>
<div class="abs cv" style="left:770.4px;width:88.0px;top:827.9px;color:rgba(20,40,20,.62)">478%</div>
<div class="abs" style="left:866.3px;top:819.4px;width:95.1px;height:30.7px;background:#daa285"></div>
<div class="abs cv" style="left:865.4px;width:89.9px;top:827.9px;color:#2b2b2b">69%</div>
<div class="abs" style="left:963.2px;top:819.4px;width:93.3px;height:30.7px;background:#ac3e3a"></div>
<div class="abs cv" style="left:962.3px;width:88.1px;top:827.9px;color:rgba(60,10,10,.6)">32%</div>
<div class="abs" style="left:1058.3px;top:819.4px;width:98.0px;height:30.7px;background:#509450"></div>
<div class="abs cv" style="left:1057.4px;width:92.8px;top:827.9px;color:rgba(20,40,20,.62)">1157%</div>
<div class="abs tv" style="left:1157.2px;width:90.0px;top:827.9px">68%</div>
<div class="abs" style="left:557.4px;top:851.0px;width:159.8px;height:32.5px;background:#ffffff"></div>
<div class="abs" style="left:1157.2px;top:851.0px;width:94.8px;height:32.5px;background:#ffffff"></div>
<div class="abs rl" style="left:562.4px;top:857.9px">Private</div>
<div class="abs" style="left:718.1px;top:851.9px;width:51.4px;height:30.7px;background:#bf5a4e"></div>
<div class="abs cv" style="left:717.2px;width:46.2px;top:860.4px;color:rgba(60,10,10,.6)">44%</div>
<div class="abs" style="left:771.3px;top:851.9px;width:93.2px;height:30.7px;background:#c87162"></div>
<div class="abs cv" style="left:770.4px;width:88.0px;top:860.4px;color:#2b2b2b">53%</div>
<div class="abs" style="left:866.3px;top:851.9px;width:95.1px;height:30.7px;background:#d89c82"></div>
<div class="abs cv" style="left:865.4px;width:89.9px;top:860.4px;color:#2b2b2b">66%</div>
<div class="abs" style="left:963.2px;top:851.9px;width:93.3px;height:30.7px;background:#eed0a6"></div>
<div class="abs cv" style="left:962.3px;width:88.1px;top:860.4px;color:#2b2b2b">88%</div>
<div class="abs" style="left:1058.3px;top:851.9px;width:98.0px;height:30.7px;background:#becb93"></div>
<div class="abs cv" style="left:1057.4px;width:92.8px;top:860.4px;color:#2b2b2b">168%</div>
<div class="abs tv" style="left:1157.2px;width:90.0px;top:860.4px">66%</div>
<div class="abs" style="left:557.4px;top:883.4px;width:159.8px;height:32.5px;background:#ebecef"></div>
<div class="abs" style="left:1157.2px;top:883.4px;width:94.8px;height:32.5px;background:#ebecef"></div>
<div class="abs rl" style="left:562.4px;top:890.3px">Own Goods</div>
<div class="abs" style="left:718.1px;top:884.3px;width:51.4px;height:30.7px;background:#b95047"></div>
<div class="abs cv" style="left:717.2px;width:46.2px;top:892.8px;color:rgba(60,10,10,.6)">40%</div>
<div class="abs" style="left:771.3px;top:884.3px;width:93.2px;height:30.7px;background:#c46557"></div>
<div class="abs cv" style="left:770.4px;width:88.0px;top:892.8px;color:#2b2b2b">48%</div>
<div class="abs" style="left:866.3px;top:884.3px;width:95.1px;height:30.7px;background:#c86f60"></div>
<div class="abs cv" style="left:865.4px;width:89.9px;top:892.8px;color:#2b2b2b">52%</div>
<div class="abs" style="left:963.2px;top:884.3px;width:93.3px;height:30.7px;background:#eed2a7"></div>
<div class="abs cv" style="left:962.3px;width:88.1px;top:892.8px;color:#2b2b2b">89%</div>
<div class="abs" style="left:1058.3px;top:884.3px;width:98.0px;height:30.7px;background:#a7c084"></div>
<div class="abs cv" style="left:1057.4px;width:92.8px;top:892.8px;color:#2b2b2b">197%</div>
<div class="abs tv" style="left:1157.2px;width:90.0px;top:892.8px">59%</div>
<div class="abs" style="left:557.4px;top:915.9px;width:159.8px;height:32.5px;background:#ffffff"></div>
<div class="abs" style="left:1157.2px;top:915.9px;width:94.8px;height:32.5px;background:#ffffff"></div>
<div class="abs rl" style="left:562.4px;top:922.8px">Others</div>
<div class="abs" style="left:718.1px;top:916.8px;width:51.4px;height:30.7px;background:#a73735"></div>
<div class="abs cv" style="left:717.2px;width:46.2px;top:925.3px;color:rgba(60,10,10,.6)">6%</div>
<div class="abs" style="left:771.3px;top:916.8px;width:93.2px;height:30.7px;background:#e0dfa5"></div>
<div class="abs cv" style="left:770.4px;width:88.0px;top:925.3px;color:#2b2b2b">139%</div>
<div class="abs" style="left:866.3px;top:916.8px;width:95.1px;height:30.7px;background:#509450"></div>
<div class="abs cv" style="left:865.4px;width:89.9px;top:925.3px;color:rgba(20,40,20,.62)">1259%</div>
<div class="abs" style="left:963.2px;top:916.8px;width:93.3px;height:30.7px;background:#5a9855"></div>
<div class="abs cv" style="left:962.3px;width:88.1px;top:925.3px;color:rgba(20,40,20,.62)">315%</div>
<div class="abs" style="left:1058.3px;top:916.8px;width:98.0px;height:30.7px;background:#509450"></div>
<div class="abs cv" style="left:1057.4px;width:92.8px;top:925.3px;color:rgba(20,40,20,.62)">5191%</div>
<div class="abs tv" style="left:1157.2px;width:90.0px;top:925.3px">43%</div>
<div class="abs" style="left:557.4px;top:948.4px;width:159.8px;height:32.5px;background:#ebecef"></div>
<div class="abs" style="left:1157.2px;top:948.4px;width:94.8px;height:32.5px;background:#ebecef"></div>
<div class="abs rl" style="left:562.4px;top:955.3px">Fare Paying Passengers</div>
<div class="abs" style="left:718.1px;top:949.3px;width:51.4px;height:30.7px;background:#ac3e3a"></div>
<div class="abs cv" style="left:717.2px;width:46.2px;top:957.8px;color:rgba(60,10,10,.6)">32%</div>
<div class="abs" style="left:771.3px;top:949.3px;width:93.2px;height:30.7px;background:#af423d"></div>
<div class="abs cv" style="left:770.4px;width:88.0px;top:957.8px;color:rgba(60,10,10,.6)">34%</div>
<div class="abs" style="left:866.3px;top:949.3px;width:95.1px;height:30.7px;background:#b64c44"></div>
<div class="abs cv" style="left:865.4px;width:89.9px;top:957.8px;color:rgba(60,10,10,.6)">38%</div>
<div class="abs" style="left:963.2px;top:949.3px;width:93.3px;height:30.7px;background:#c97364"></div>
<div class="abs cv" style="left:962.3px;width:88.1px;top:957.8px;color:#2b2b2b">54%</div>
<div class="abs" style="left:1058.3px;top:949.3px;width:98.0px;height:30.7px;background:#bfcc94"></div>
<div class="abs cv" style="left:1057.4px;width:92.8px;top:957.8px;color:#2b2b2b">167%</div>
<div class="abs tv" style="left:1157.2px;width:90.0px;top:957.8px">42%</div>
<div class="abs" style="left:557.4px;top:980.8px;width:159.8px;height:32.5px;background:#ffffff"></div>
<div class="abs" style="left:1157.2px;top:980.8px;width:94.8px;height:32.5px;background:#ffffff"></div>
<div class="abs rl" style="left:562.4px;top:987.7px">General Cartage</div>
<div class="abs" style="left:718.1px;top:981.7px;width:51.4px;height:30.7px;background:#a73735"></div>
<div class="abs cv" style="left:717.2px;width:46.2px;top:990.2px;color:rgba(60,10,10,.6)">21%</div>
<div class="abs" style="left:771.3px;top:981.7px;width:93.2px;height:30.7px;background:#a83836"></div>
<div class="abs cv" style="left:770.4px;width:88.0px;top:990.2px;color:rgba(60,10,10,.6)">26%</div>
<div class="abs" style="left:866.3px;top:981.7px;width:95.1px;height:30.7px;background:#a73735"></div>
<div class="abs cv" style="left:865.4px;width:89.9px;top:990.2px;color:rgba(60,10,10,.6)">24%</div>
<div class="abs" style="left:963.2px;top:981.7px;width:93.3px;height:30.7px;background:#af423d"></div>
<div class="abs cv" style="left:962.3px;width:88.1px;top:990.2px;color:rgba(60,10,10,.6)">34%</div>
<div class="abs" style="left:1058.3px;top:981.7px;width:98.0px;height:30.7px;background:#dba587"></div>
<div class="abs cv" style="left:1057.4px;width:92.8px;top:990.2px;color:#2b2b2b">70%</div>
<div class="abs tv" style="left:1157.2px;width:90.0px;top:990.2px">27%</div>
<div class="abs" style="left:557.4px;top:1013.3px;width:694.6px;height:32.5px;background:#ffffff"></div>
<div class="abs rl" style="left:562.4px;top:1020.0px;font-weight:bold">Total</div>
<div class="abs tv" style="left:717.2px;width:46.2px;top:1022.7px">34%</div>
<div class="abs tv" style="left:770.4px;width:88.0px;top:1022.7px">34%</div>
<div class="abs tv" style="left:865.4px;width:89.9px;top:1022.7px">39%</div>
<div class="abs tv" style="left:962.3px;width:88.1px;top:1022.7px">59%</div>
<div class="abs tv" style="left:1057.4px;width:92.8px;top:1022.7px">114%</div>
<div class="abs tv" style="left:1157.2px;width:90.0px;top:1022.7px">44%</div>
<div class="abs" style="left:716.6px;top:591.2px;width:1.2px;height:454.6px;background:#333"></div>
<svg class="abs" style="left:1320px;top:636px" width="585" height="400" viewBox="1320 636 585 400"><rect x="1329.3" y="645.3" width="562.3" height="382.3" fill="#d2b3b5"/><rect x="1420.4" y="645.3" width="1.7" height="382.3" fill="#ead6d5" fill-opacity=".9"/><rect x="1514.6" y="645.3" width="1.7" height="382.3" fill="#ead6d5" fill-opacity=".9"/><rect x="1608.8" y="645.3" width="1.7" height="382.3" fill="#ead6d5" fill-opacity=".9"/><rect x="1703.0" y="645.3" width="1.7" height="382.3" fill="#ead6d5" fill-opacity=".9"/><rect x="1797.2" y="645.3" width="1.7" height="382.3" fill="#ead6d5" fill-opacity=".9"/><path d="M1329.3 1027.6 L1891.6 798.2 L1891.6 1027.6 Z" fill="#d5e0d3"/><rect x="1420.4" y="645.3" width="1.7" height="382.3" fill="#ffffff" fill-opacity=".08"/><rect x="1514.6" y="645.3" width="1.7" height="382.3" fill="#ffffff" fill-opacity=".08"/><rect x="1608.8" y="645.3" width="1.7" height="382.3" fill="#ffffff" fill-opacity=".08"/><rect x="1703.0" y="645.3" width="1.7" height="382.3" fill="#ffffff" fill-opacity=".08"/><rect x="1797.2" y="645.3" width="1.7" height="382.3" fill="#ffffff" fill-opacity=".08"/><clipPath id="pc"><rect x="1326.3" y="645.3" width="568.3" height="383.3"/></clipPath><g fill="#60ad55" fill-opacity=".84" clip-path="url(#pc)"><circle cx="1352.4" cy="1021.5" r="6.9"/><circle cx="1386.5" cy="1022.3" r="6.9"/><circle cx="1373.2" cy="1019.0" r="6.9"/><circle cx="1335.4" cy="1014.1" r="6.9"/><circle cx="1334.7" cy="1016.0" r="6.9"/><circle cx="1335.8" cy="1022.0" r="6.9"/><circle cx="1361.7" cy="1007.8" r="6.9"/><circle cx="1338.4" cy="1020.3" r="6.9"/><circle cx="1383.7" cy="1008.0" r="6.9"/><circle cx="1377.8" cy="1018.7" r="6.9"/><circle cx="1430.5" cy="1022.4" r="6.9"/><circle cx="1413.5" cy="1021.1" r="6.9"/><circle cx="1339.5" cy="1021.7" r="6.9"/><circle cx="1351.1" cy="1006.7" r="6.9"/><circle cx="1341.7" cy="1012.6" r="6.9"/><circle cx="1385.1" cy="1019.3" r="6.9"/><circle cx="1374.5" cy="1022.3" r="6.9"/><circle cx="1335.5" cy="1020.5" r="6.9"/><circle cx="1390.1" cy="1018.7" r="6.9"/><circle cx="1351.6" cy="1013.3" r="6.9"/><circle cx="1364.5" cy="1019.7" r="6.9"/><circle cx="1404.8" cy="1015.8" r="6.9"/><circle cx="1346.1" cy="1013.1" r="6.9"/><circle cx="1372.1" cy="1008.0" r="6.9"/><circle cx="1396.3" cy="1020.7" r="6.9"/><circle cx="1431.0" cy="1022.3" r="6.9"/><circle cx="1361.0" cy="1009.7" r="6.9"/><circle cx="1339.9" cy="1014.9" r="6.9"/><circle cx="1334.8" cy="1009.5" r="6.9"/><circle cx="1400.9" cy="1017.3" r="6.9"/><circle cx="1415.9" cy="1021.0" r="6.9"/><circle cx="1392.0" cy="1016.3" r="6.9"/><circle cx="1378.2" cy="1017.7" r="6.9"/><circle cx="1411.0" cy="1012.7" r="6.9"/><circle cx="1366.6" cy="1012.7" r="6.9"/><circle cx="1335.5" cy="1008.5" r="6.9"/><circle cx="1386.1" cy="1007.3" r="6.9"/><circle cx="1408.5" cy="1021.0" r="6.9"/><circle cx="1358.0" cy="1011.7" r="6.9"/><circle cx="1334.3" cy="1015.3" r="6.9"/><circle cx="1340.9" cy="1021.7" r="6.9"/><circle cx="1335.4" cy="1006.3" r="6.9"/><circle cx="1338.7" cy="1019.9" r="6.9"/><circle cx="1358.4" cy="1006.1" r="6.9"/><circle cx="1336.3" cy="1015.7" r="6.9"/><circle cx="1374.7" cy="1008.2" r="6.9"/><circle cx="1408.2" cy="1013.6" r="6.9"/><circle cx="1348.7" cy="1017.0" r="6.9"/><circle cx="1355.5" cy="1005.2" r="6.9"/><circle cx="1427.7" cy="1022.1" r="6.9"/><circle cx="1341.4" cy="1020.2" r="6.9"/><circle cx="1345.3" cy="1015.3" r="6.9"/><circle cx="1379.2" cy="1020.5" r="6.9"/><circle cx="1334.0" cy="1016.3" r="6.9"/><circle cx="1356.4" cy="1014.1" r="6.9"/><circle cx="1427.0" cy="1018.2" r="6.9"/><circle cx="1371.0" cy="1014.1" r="6.9"/><circle cx="1389.6" cy="1022.4" r="6.9"/><circle cx="1419.3" cy="1016.3" r="6.9"/><circle cx="1415.8" cy="1015.6" r="6.9"/><circle cx="1358.6" cy="1017.8" r="6.9"/><circle cx="1337.3" cy="1010.7" r="6.9"/><circle cx="1335.6" cy="1022.2" r="6.9"/><circle cx="1343.5" cy="1021.2" r="6.9"/><circle cx="1353.8" cy="1022.3" r="6.9"/><circle cx="1334.0" cy="1021.3" r="6.9"/><circle cx="1337.2" cy="1017.7" r="6.9"/><circle cx="1334.4" cy="1002.4" r="6.9"/><circle cx="1382.1" cy="1021.7" r="6.9"/><circle cx="1346.7" cy="1018.3" r="6.9"/><circle cx="1356.0" cy="1021.8" r="6.9"/><circle cx="1412.2" cy="1012.1" r="6.9"/><circle cx="1365.8" cy="1016.5" r="6.9"/><circle cx="1336.5" cy="1021.9" r="6.9"/><circle cx="1354.1" cy="1020.0" r="6.9"/><circle cx="1409.5" cy="1021.9" r="6.9"/><circle cx="1334.4" cy="999.5" r="6.9"/><circle cx="1372.4" cy="1021.7" r="6.9"/><circle cx="1374.0" cy="1022.4" r="6.9"/><circle cx="1372.4" cy="1005.2" r="6.9"/><circle cx="1414.2" cy="1016.8" r="6.9"/><circle cx="1347.3" cy="1018.0" r="6.9"/><circle cx="1340.8" cy="1006.8" r="6.9"/><circle cx="1372.9" cy="1010.6" r="6.9"/><circle cx="1352.9" cy="1020.6" r="6.9"/><circle cx="1407.1" cy="1011.3" r="6.9"/><circle cx="1412.7" cy="1015.1" r="6.9"/><circle cx="1408.0" cy="1015.5" r="6.9"/><circle cx="1344.8" cy="1014.5" r="6.9"/><circle cx="1355.2" cy="1022.4" r="6.9"/><circle cx="1334.0" cy="1021.8" r="6.9"/><circle cx="1337.2" cy="1022.1" r="6.9"/><circle cx="1340.4" cy="1022.1" r="6.9"/><circle cx="1343.6" cy="1022.6" r="6.9"/><circle cx="1346.8" cy="1022.9" r="6.9"/><circle cx="1350.0" cy="1022.3" r="6.9"/><circle cx="1353.2" cy="1022.9" r="6.9"/><circle cx="1356.4" cy="1023.0" r="6.9"/><circle cx="1359.6" cy="1022.9" r="6.9"/><circle cx="1362.8" cy="1022.2" r="6.9"/><circle cx="1366.0" cy="1022.1" r="6.9"/><circle cx="1369.2" cy="1022.1" r="6.9"/><circle cx="1372.4" cy="1022.0" r="6.9"/><circle cx="1375.6" cy="1022.0" r="6.9"/><circle cx="1378.8" cy="1022.5" r="6.9"/><circle cx="1382.0" cy="1022.9" r="6.9"/><circle cx="1385.2" cy="1022.8" r="6.9"/><circle cx="1388.4" cy="1022.4" r="6.9"/><circle cx="1391.6" cy="1022.6" r="6.9"/><circle cx="1394.8" cy="1022.8" r="6.9"/><circle cx="1398.0" cy="1021.9" r="6.9"/><circle cx="1401.2" cy="1022.6" r="6.9"/><circle cx="1404.4" cy="1022.9" r="6.9"/><circle cx="1407.6" cy="1022.7" r="6.9"/><circle cx="1410.8" cy="1022.7" r="6.9"/><circle cx="1414.0" cy="1022.4" r="6.9"/><circle cx="1417.2" cy="1022.0" r="6.9"/><circle cx="1420.4" cy="1022.7" r="6.9"/><circle cx="1423.6" cy="1022.2" r="6.9"/><circle cx="1426.8" cy="1022.8" r="6.9"/><circle cx="1430.0" cy="1023.0" r="6.9"/><circle cx="1433.2" cy="1022.3" r="6.9"/><circle cx="1436.4" cy="1022.3" r="6.9"/><circle cx="1439.6" cy="1022.9" r="6.9"/><circle cx="1360.9" cy="646.0" r="6.9"/><circle cx="1354.3" cy="706.6" r="6.9"/><circle cx="1390.7" cy="746.0" r="6.9"/><circle cx="1416.6" cy="778.5" r="6.9"/><circle cx="1631.0" cy="730.2" r="6.9"/><circle cx="1355.6" cy="847.8" r="6.9"/><circle cx="1555.1" cy="853.5" r="6.9"/><circle cx="1383.7" cy="877.2" r="6.9"/><circle cx="1362.2" cy="892.5" r="6.9"/><circle cx="1419.2" cy="890.8" r="6.9"/><circle cx="1571.4" cy="909.2" r="6.9"/><circle cx="1390.2" cy="916.6" r="6.9"/><circle cx="1399.5" cy="927.6" r="6.9"/><circle cx="1371.8" cy="925.8" r="6.9"/><circle cx="1368.8" cy="932.4" r="6.9"/><circle cx="1539.8" cy="925.4" r="6.9"/><circle cx="1508.2" cy="949.5" r="6.9"/><circle cx="1369.6" cy="953.5" r="6.9"/><circle cx="1348.1" cy="959.6" r="6.9"/><circle cx="1442.0" cy="958.7" r="6.9"/><circle cx="1390.7" cy="966.2" r="6.9"/><circle cx="1406.9" cy="974.1" r="6.9"/><circle cx="1391.6" cy="982.8" r="6.9"/><circle cx="1368.3" cy="991.6" r="6.9"/><circle cx="1382.8" cy="998.2" r="6.9"/><circle cx="1403.4" cy="996.9" r="6.9"/><circle cx="1402.5" cy="1001.3" r="6.9"/><circle cx="1436.7" cy="993.4" r="6.9"/><circle cx="1722.7" cy="982.8" r="6.9"/><circle cx="1625.3" cy="1001.7" r="6.9"/><circle cx="1459.5" cy="1005.6" r="6.9"/><circle cx="1477.5" cy="1010.0" r="6.9"/><circle cx="1478.4" cy="1013.1" r="6.9"/><circle cx="1461.7" cy="1021.0" r="6.9"/><circle cx="1476.6" cy="1022.3" r="6.9"/><circle cx="1665.2" cy="1024.1" r="6.9"/></g></svg>
<div class="abs ax" style="left:1401.2px;width:40px;text-align:center;top:1033.9px">$10K</div>
<div class="abs ax" style="left:1495.4px;width:40px;text-align:center;top:1033.9px">$20K</div>
<div class="abs ax" style="left:1589.7px;width:40px;text-align:center;top:1033.9px">$30K</div>
<div class="abs ax" style="left:1683.9px;width:40px;text-align:center;top:1033.9px">$40K</div>
<div class="abs ax" style="left:1778.1px;width:40px;text-align:center;top:1033.9px">$50K</div>
<div class="abs ax" style="left:1872.3px;width:40px;text-align:center;top:1033.9px">$60K</div>
<div class="abs ax" style="left:1270px;width:50px;text-align:right;top:640.3px">$100K</div>
<div class="abs ax" style="left:1270px;width:50px;text-align:right;top:716.8px">$80K</div>
<div class="abs ax" style="left:1270px;width:50px;text-align:right;top:793.2px">$60K</div>
<div class="abs ax" style="left:1270px;width:50px;text-align:right;top:869.6px">$40K</div>
<div class="abs ax" style="left:1270px;width:50px;text-align:right;top:946.1px">$20K</div>
<div class="abs axt" style="left:1560px;width:100px;top:1048px">Avg Premium</div>
<div class="abs axt" style="left:1247px;width:60px;top:830.5px;transform:rotate(-90deg)">Avg claim</div>
</div>
</body></html>
